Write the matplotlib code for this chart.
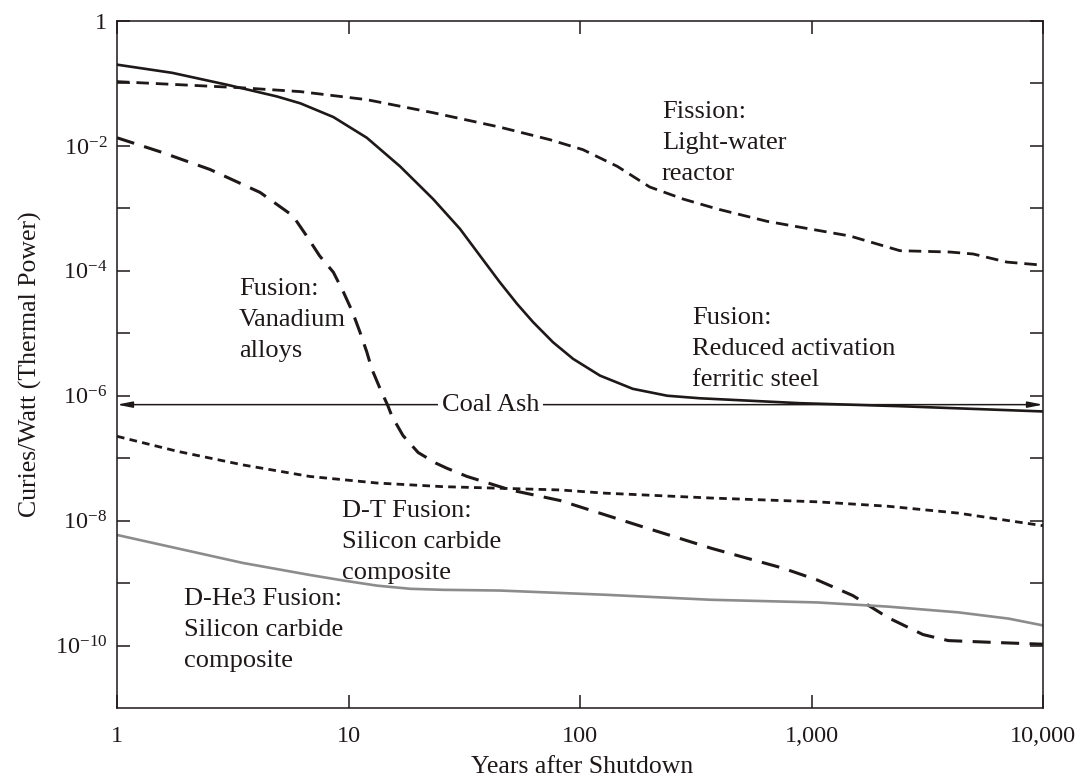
import matplotlib
matplotlib.use('Agg')
import matplotlib.pyplot as plt
from matplotlib.ticker import FixedLocator, FixedFormatter, NullFormatter

plt.rcParams['font.family'] = ['Liberation Serif', 'DejaVu Serif']
plt.rcParams['mathtext.fontset'] = 'custom'
plt.rcParams['mathtext.rm'] = 'Liberation Serif'
plt.rcParams['mathtext.it'] = 'Liberation Serif:italic'
plt.rcParams['lines.scale_dashes'] = False

# ---------------- data ----------------
raf_years = [1, 1.73, 3.0, 4.9, 6.2, 8.6, 12.0, 16.7, 23.2, 30.3, 37, 45, 53.5, 62.7, 76.4, 93.3,
             122, 169, 238, 330, 890, 2400, 10000]
raf_values = [2.0e-1, 1.48e-1, 9.5e-2, 6.2e-2, 4.8e-2, 2.9e-2, 1.35e-2, 4.7e-3, 1.41e-3, 4.7e-4,
              1.74e-4, 6.6e-5, 2.95e-5, 1.51e-5, 7.2e-6, 3.9e-6, 2.1e-6, 1.29e-6, 1.0e-6, 9.1e-7,
              7.6e-7, 6.8e-7, 5.6e-7]

lwr_years = [1, 3.5, 6.2, 12.0, 23.2, 45, 74, 103, 145, 200, 279, 391, 643, 890, 1470, 2410, 3960,
             4990, 6980, 10000]
lwr_values = [1.07e-1, 8.5e-2, 7.4e-2, 5.5e-2, 3.4e-2, 2.0e-2, 1.26e-2, 8.7e-3, 4.7e-3, 2.2e-3,
              1.41e-3, 9.8e-4, 6.2e-4, 5.0e-4, 3.6e-4, 2.1e-4, 2.0e-4, 1.86e-4, 1.38e-4, 1.23e-4]

van_years = [1, 1.53, 2.52, 4.15, 5.75, 6.6, 7.5, 8.6, 9.5, 10.4, 11.2, 12.0, 12.6, 13.7, 14.8, 15.4,
             17.2, 20.0, 23.9, 26.6, 32.5, 50, 82, 184, 370, 750, 1060, 1510, 2140, 3030, 3900, 6200,
             10000]
van_values = [1.35e-2, 8.1e-3, 4.2e-3, 1.8e-3, 7.6e-4, 3.6e-4, 1.74e-4, 9.5e-5, 4.6e-5, 2.2e-5,
              1.05e-5, 5.0e-6, 2.7e-6, 1.29e-6, 6.9e-7, 4.7e-7, 2.3e-7, 1.23e-7, 8.3e-8, 6.9e-8,
              5.1e-8, 3.1e-8, 2.1e-8, 8.1e-9, 3.6e-9, 1.74e-9, 1.12e-9, 6.3e-10, 2.8e-10, 1.5e-10,
              1.2e-10, 1.12e-10, 1.05e-10]

dt_years = [1, 1.82, 3.5, 6.8, 13.3, 25.6, 45, 82, 129, 370, 1060, 2140, 4300, 7100, 10000]
dt_values = [2.24e-7, 1.29e-7, 7.8e-8, 5.1e-8, 4.0e-8, 3.5e-8, 3.3e-8, 3.1e-8, 2.75e-8, 2.3e-8, 2.0e-8,
             1.7e-8, 1.32e-8, 1.0e-8, 8.3e-9]

dhe3_years = [1, 1.82, 3.5, 6.8, 9.5, 13.3, 18.5, 25.6, 45, 129, 370, 1060, 2140, 4300, 7100, 10000]
dhe3_values = [5.9e-9, 3.6e-9, 2.1e-9, 1.35e-9, 1.10e-9, 9.1e-10, 8.1e-10, 7.8e-10, 7.6e-10, 6.5e-10,
               5.4e-10, 4.9e-10, 4.2e-10, 3.4e-10, 2.7e-10, 2.1e-10]

coal_ash_level = 7.2e-7
coal_ash_span = [1, 10000]

x_ticks = [1, 10, 100, 1000, 10000]
x_tick_labels = ['1', '10', '100', '1,000', '10,000']
y_major = [1, 1e-2, 1e-4, 1e-6, 1e-8, 1e-10]
y_major_labels = ['1', r'$\mathregular{10^{-2}}$', r'$\mathregular{10^{-4}}$', r'$\mathregular{10^{-6}}$',
                  r'$\mathregular{10^{-8}}$', r'$\mathregular{10^{-10}}$']
y_minor = [1e-1, 1e-3, 1e-5, 1e-7, 1e-9]

# ---------------- figure ----------------
INK = '#1e1818'
FS_TICK = 17.5
FS_NOTE = 19
FS_AXIS = 18.5

fig = plt.figure(figsize=(10.82, 7.78), dpi=100)
ax = fig.add_axes([117 / 1082, 70 / 778, 926 / 1082, 687 / 778])
ax.set_xscale('log')
ax.set_yscale('log')
ax.set_xlim(1, 10000)
ax.set_ylim(1e-11, 1)

ax.plot(raf_years, raf_values, color=INK, lw=1.9, solid_joinstyle='round')
ax.plot(lwr_years, lwr_values, color=INK, lw=2.0, dashes=(9, 5))
ax.plot(van_years, van_values, color=INK, lw=2.2, dashes=(13, 7.5))
ax.plot(dt_years, dt_values, color=INK, lw=2.0, dashes=(5.5, 3.8))
ax.plot(dhe3_years, dhe3_values, color='#8c8c8c', lw=1.9, solid_joinstyle='round')

# Coal ash double arrow
ax.annotate('', xy=(coal_ash_span[0], coal_ash_level), xytext=(coal_ash_span[1], coal_ash_level),
            arrowprops=dict(arrowstyle='<|-|>,head_length=0.9,head_width=0.18', lw=1.1, color=INK,
                            shrinkA=0, shrinkB=0))
ax.text(41, coal_ash_level, 'Coal Ash', fontsize=FS_NOTE, color=INK, ha='center', va='center',
        bbox=dict(facecolor='white', edgecolor='none', pad=2.5))


def label(px, py, s):
    ax.text((px - 117) / 926, (708 - py) / 687, s, transform=ax.transAxes, fontsize=FS_NOTE,
            color=INK, ha='left', va='top', linespacing=1.52)


label(662, 101, 'Fission:\nLight-water\nreactor')
label(239, 278, 'Fusion:\nVanadium\nalloys')
label(692, 307, 'Fusion:\nReduced activation\nferritic steel')
label(342, 500, 'D-T Fusion:\nSilicon carbide\ncomposite')
label(184, 588, 'D-He3 Fusion:\nSilicon carbide\ncomposite')

# ticks
ax.xaxis.set_major_locator(FixedLocator(x_ticks))
ax.xaxis.set_major_formatter(FixedFormatter(x_tick_labels))
ax.xaxis.set_minor_locator(FixedLocator([]))
ax.yaxis.set_major_locator(FixedLocator(y_major))
ax.yaxis.set_major_formatter(FixedFormatter(y_major_labels))
ax.yaxis.set_minor_locator(FixedLocator(y_minor))
ax.yaxis.set_minor_formatter(NullFormatter())

ax.tick_params(which='both', direction='in', top=True, right=True, length=9.5, width=1.1,
               color=INK, labelsize=FS_TICK, labelcolor=INK)
ax.tick_params(axis='x', pad=13)
ax.tick_params(axis='y', pad=7)
for sp in ax.spines.values():
    sp.set_linewidth(1.1)
    sp.set_color(INK)

ax.set_xlabel('Years after Shutdown', fontsize=FS_AXIS, color=INK)
ax.xaxis.set_label_coords(0.502, -0.070)
ax.set_ylabel('Curies/Watt (Thermal Power)', fontsize=FS_AXIS, color=INK)
ax.yaxis.set_label_coords(-0.081, 0.5)

fig.savefig('out.png', dpi=100, facecolor='white')
